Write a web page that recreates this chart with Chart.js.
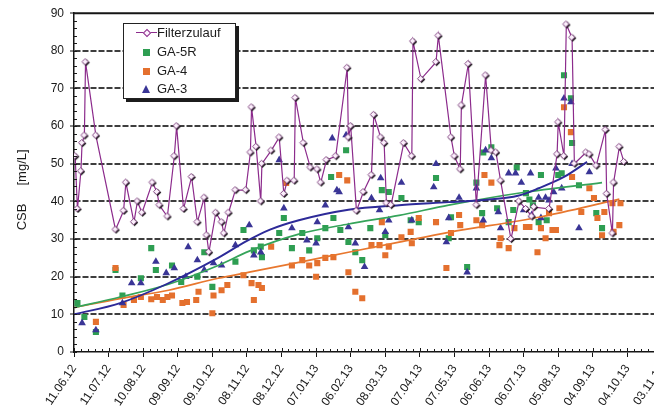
<!DOCTYPE html>
<html>
<head>
<meta charset="utf-8">
<script src="https://cdn.jsdelivr.net/npm/chart.js@4.4.1/dist/chart.umd.min.js"></script>
<style>
  html, body { margin: 0; padding: 0; background: #fff; overflow: hidden; }
  #wrap { position: relative; width: 654px; height: 412px; overflow: hidden; background: #fff; }
  #chart { position: absolute; left: 0; top: 0; }
  #legend {
    position: absolute; left: 123px; top: 23px; width: 111px; height: 74px;
    border: 1px solid #222; background: #fff; box-shadow: 3px 3px 0 #1c1c1c;
    font-family: "Liberation Sans", Arial, sans-serif; font-size: 13px; color: #1c1c1c;
  }
  .row { position: absolute; left: 0; height: 16px; width: 111px; }
  .row span.t { position: absolute; left: 33px; top: 0; line-height: 16px; white-space: nowrap; }
  .mk { position: absolute; }
</style>
</head>
<body>
<div id="wrap">
  <canvas id="chart" width="680" height="412"></canvas>
  <div id="legend"></div>
</div>
<script>
// Date axis: days counted from 11.06.12, one label every 30 days
const xTickLabels = ['11.06.12','11.07.12','10.08.12','09.09.12','09.10.12','08.11.12','08.12.12','07.01.13','06.02.13','08.03.13','07.04.13','07.05.13','06.06.13','06.07.13','05.08.13','04.09.13','04.10.13','03.11.13'];
const yTickValues = [0, 10, 20, 30, 40, 50, 60, 70, 80, 90];

const seriesNames = ['Filterzulauf', 'GA-5R', 'GA-4', 'GA-3'];

// Filterzulauf (CSB in mg/L)
const filterDays = [1,3,6,7,9,10,19,36,43,45,52,55,59,68,72,74,81,87,89,95,102,107,113,115,117,123,128,130,134,140,149,153,154,158,162,163,171,178,182,185,191,192,199,205,211,214,219,227,237,238,240,245,251,258,260,266,269,271,275,286,293,294,301,314,316,327,330,335,336,342,349,357,362,366,370,379,386,392,397,399,412,419,420,425,427,432,434,444,447,453,461,462,467,468,473,477];
const filterVals = [52,38,48,55.5,57.5,77,57.5,32.5,37.5,45,34.5,40,37,45,42.5,39,36,52,60,38,46.5,34.5,41,31,26.5,37,34.5,31.5,37,43,43,53,65,54.5,40,50,53.5,57,42,45.5,45.5,67.5,55.5,49,48.5,45,51,52,75.5,57,60,37.5,42.5,47,63,57,55.5,39.5,39,55.5,52,82.5,72.5,77,84,57,52,48.5,65.5,76.5,39,73.5,53.5,53,45.5,30,40,38,36,38.5,38,52.5,61,52,87,83.5,50,53,52.5,49.5,59,42,31.5,45,54.5,50.5];

// GA-5R
const ga5rDays = [3,9,19,36,42,58,67,71,85,93,107,113,120,140,147,156,162,163,178,182,189,198,204,211,218,223,225,231,236,238,244,250,257,267,270,273,284,292,299,314,325,327,341,349,354,355,362,367,377,381,384,392,395,398,403,405,410,420,423,425,431,432,438,453,458];
const ga5rVals = [13,9.3,5.3,21.8,15,19.6,27.6,21.8,23,18.6,20,26.5,17.3,24,32.4,27,28,25.2,31.6,35.6,27.6,31.6,27,30.2,32.9,46.5,35.6,32.4,53.6,29.2,26.5,24.4,32.9,43,31,42.5,40.9,35,34.5,46.2,30.2,35.8,22.6,45,36.9,53,54.4,38.2,34.5,37.7,49,42.2,40.5,39,34.5,47,35,47,47.5,73.5,67.4,55.5,44.3,36.9,32.9];

// GA-4
const ga4Days = [19,36,43,52,58,67,72,77,81,85,94,98,106,108,120,121,128,133,147,154,156,160,163,171,184,189,198,204,210,211,218,225,230,237,238,244,250,258,265,267,270,273,284,292,293,299,314,323,327,334,335,349,354,356,362,369,370,377,382,392,395,402,405,409,412,415,418,421,425,431,432,440,447,451,454,458,460,467,468,473,474];
const ga4Vals = [8,22.3,12.5,13.8,14.6,14,14.6,13.8,14.6,15,13,13.3,13.8,16,10.3,15,16.4,17.8,20.4,18.3,13.8,17.8,17,28,44.9,23,24.4,23,20,23.6,25,25.2,47,45.6,21.2,16,14.3,28.4,28.4,34.5,25.7,28,30.5,31.9,28.9,35.6,34.5,22.3,31.6,36.4,33.7,35,33.7,47,45,28.4,30.2,27.6,32.9,33.2,33.2,26.5,32.9,30.2,36.9,32.4,32.4,38.2,65,58.4,46.5,37.2,43.5,40.9,35.6,31,37.2,39.5,31.9,33.7,39.5];

// GA-3
const ga3Days = [7,19,42,50,58,71,80,87,97,99,107,113,121,128,140,152,156,162,178,182,189,202,210,211,218,224,228,230,236,238,244,252,258,265,266,270,273,284,293,312,314,323,325,334,341,349,355,357,362,368,370,377,383,388,390,396,397,403,405,409,412,416,418,423,425,431,432,438,447];
const ga3Vals = [7.7,5.8,13,18.3,18.3,24,21,22.3,20,27.9,24.4,21.8,23.6,23,28.4,33.7,25.7,26.5,51,38.2,32.9,29.7,28.9,34.5,39,56.8,43,42.5,57.6,33.2,28.9,22.6,40.9,37.7,46.2,31.9,35,45,35,43.8,50,29.2,35.6,41,21.2,43.5,35,53.6,51.5,37.2,32.9,47.5,47.5,45,37.7,47.5,36.4,41,35.6,41,40.3,42.5,48.8,43.5,67.4,66.4,50,32.9,47.8];

// Trend curves for the three filters
const trend3Days = [0,40,80,125,150,170,195,238,282,325,360,385,403,425,445];
const trend3Vals = [10,13,18,25,29.5,32.5,35,37.8,39,39.8,40.5,41.5,43.5,46.5,50.5];
const trend5rDays = [0,40,82,125,152,195,238,282,325,388,458];
const trend5rVals = [11.8,14.6,18,23,26.8,31.3,34,36.3,39,42.3,45];
const trend4Days = [0,40,82,125,152,195,238,282,325,403,473];
const trend4Vals = [11.8,14.2,16.4,19.6,21.2,23.8,26.5,29.2,31.8,35.8,40.6];

const COLORS = {
  filter: '#8c2b8c',
  ga5r: '#2e9e52',
  ga4: '#e4702e',
  ga3: '#3a3596'
};

const pts = (xs, ys) => xs.map((x, i) => ({ x: x, y: ys[i] }));

// Small white diamond with a dark drop edge, used for the Filterzulauf markers
function diamondMarker() {
  const c = document.createElement('canvas');
  c.width = 10; c.height = 10;
  const g = c.getContext('2d');
  const dia = (cx, cy, r) => {
    g.beginPath();
    g.moveTo(cx, cy - r); g.lineTo(cx + r, cy); g.lineTo(cx, cy + r); g.lineTo(cx - r, cy);
    g.closePath();
  };
  dia(5.6, 5.4, 3.6);
  g.fillStyle = '#111'; g.fill();
  dia(4.6, 4.6, 3.2);
  g.fillStyle = '#fcf0fc'; g.fill();
  g.lineWidth = 0.9; g.strokeStyle = '#7a3a7a'; g.stroke();
  return c;
}
const diamondImg = diamondMarker();

const datasets = [
  {
    label: seriesNames[0], data: pts(filterDays, filterVals), showLine: true,
    borderColor: COLORS.filter, borderWidth: 1.2,
    pointStyle: diamondImg, pointRadius: 4, order: 0
  },
  {
    label: 'trend GA-3', data: pts(trend3Days, trend3Vals), showLine: true,
    borderColor: '#2d2a98', borderWidth: 1.9, pointRadius: 0,
    cubicInterpolationMode: 'monotone', order: 1
  },
  {
    label: 'trend GA-5R', data: pts(trend5rDays, trend5rVals), showLine: true,
    borderColor: '#35a45a', borderWidth: 1.7, pointRadius: 0,
    cubicInterpolationMode: 'monotone', order: 1
  },
  {
    label: 'trend GA-4', data: pts(trend4Days, trend4Vals), showLine: true,
    borderColor: '#e8772e', borderWidth: 1.7, pointRadius: 0,
    cubicInterpolationMode: 'monotone', order: 1
  },
  {
    label: seriesNames[1], data: pts(ga5rDays, ga5rVals), showLine: false,
    pointStyle: 'rect', pointRadius: 4.3, backgroundColor: COLORS.ga5r,
    borderColor: COLORS.ga5r, borderWidth: 0, order: 4
  },
  {
    label: seriesNames[2], data: pts(ga4Days, ga4Vals), showLine: false,
    pointStyle: 'rect', pointRadius: 4.3, backgroundColor: COLORS.ga4,
    borderColor: COLORS.ga4, borderWidth: 0, order: 3
  },
  {
    label: seriesNames[3], data: pts(ga3Days, ga3Vals), showLine: false,
    pointStyle: 'triangle', pointRadius: 4.4, backgroundColor: COLORS.ga3,
    borderColor: COLORS.ga3, borderWidth: 0, order: 2
  }
];

// Top frame line and the small minor tick marks on both axes
const axisDecor = {
  id: 'axisDecor',
  beforeDatasetsDraw(chart) {
    const { ctx, chartArea, scales } = chart;
    const yTop = scales.y.getPixelForValue(90);
    ctx.save();
    ctx.strokeStyle = '#151515';
    ctx.lineWidth = 2;
    ctx.beginPath();
    ctx.moveTo(chartArea.left, yTop);
    ctx.lineTo(chartArea.right + 20, yTop);
    ctx.stroke();
    ctx.restore();
  },
  afterDraw(chart) {
    const { ctx, chartArea, scales } = chart;
    ctx.save();
    ctx.strokeStyle = '#1a1a1a';
    ctx.lineWidth = 1;
    ctx.beginPath();
    for (let v = 0; v <= 90; v += 2) {
      const y = Math.round(scales.y.getPixelForValue(v)) + 0.5;
      ctx.moveTo(chartArea.left, y);
      ctx.lineTo(chartArea.left + 3, y);
    }
    for (let d = 0; d <= 540; d += 6) {
      const x = Math.round(scales.x.getPixelForValue(d)) + 0.5;
      ctx.moveTo(x, chartArea.bottom);
      ctx.lineTo(x, chartArea.bottom - (d % 30 === 0 ? 4 : 3));
    }
    ctx.stroke();
    ctx.restore();
  }
};

const chart = new Chart(document.getElementById('chart'), {
  type: 'scatter',
  data: { datasets },
  options: {
    responsive: false,
    animation: false,
    devicePixelRatio: 1,
    layout: { padding: { top: 13, right: 18, left: 0, bottom: 0 } },
    plugins: { legend: { display: false }, tooltip: { enabled: false } },
    scales: {
      x: {
        type: 'linear', min: 0, max: 510,
        afterBuildTicks: (s) => { s.ticks = xTickLabels.map((_, i) => ({ value: i * 30 })); },
        afterFit: (s) => { s.height = 60; },
        ticks: {
          autoSkip: false, maxRotation: 56, minRotation: 56, padding: 5,
          color: '#1a1a1a',
          font: { family: '"Liberation Sans", Arial, sans-serif', size: 12 },
          callback: (v) => xTickLabels[Math.round(v / 30)] || ''
        },
        grid: { drawOnChartArea: false, tickLength: 5, tickColor: '#151515', tickWidth: 1 },
        border: { color: '#151515', width: 1.5 }
      },
      y: {
        min: 0, max: 90,
        afterBuildTicks: (s) => { s.ticks = yTickValues.map((v) => ({ value: v })); },
        afterFit: (s) => { s.width = 74; },
        ticks: {
          padding: 6, color: '#1a1a1a',
          font: { family: '"Liberation Sans", Arial, sans-serif', size: 12 }
        },
        grid: {
          color: (c) => (c.tick && (c.tick.value === 0 || c.tick.value === 90)) ? 'rgba(0,0,0,0)' : '#3e3e3e',
          lineWidth: 2, tickLength: 4, tickColor: '#151515', tickWidth: 1
        },
        border: { color: '#151515', width: 1.5, dash: [6, 2] },
        title: {
          display: true, text: 'CSB     [mg/L]    ', color: '#1a1a1a',
          font: { family: '"Liberation Sans", Arial, sans-serif', size: 13, lineHeight: 1 },
          padding: { top: 16, bottom: 0 }
        }
      }
    }
  },
  plugins: [axisDecor]
});

// Legend box built from the dataset names and colours
(function buildLegend() {
  const box = document.getElementById('legend');
  const rowTops = [1, 20, 39, 57];
  const rows = [
    { name: seriesNames[0], kind: 'line' },
    { name: seriesNames[1], kind: 'square', color: COLORS.ga5r },
    { name: seriesNames[2], kind: 'square', color: COLORS.ga4 },
    { name: seriesNames[3], kind: 'triangle', color: COLORS.ga3 }
  ];
  rows.forEach((r, i) => {
    const row = document.createElement('div');
    row.className = 'row';
    row.style.top = rowTops[i] + 'px';
    if (r.kind === 'line') {
      const ln = document.createElement('div');
      ln.className = 'mk';
      ln.style.cssText = 'left:12px;top:7px;width:21px;height:0;border-top:1.5px solid ' + COLORS.filter + ';';
      row.appendChild(ln);
      const dm = document.createElement('div');
      dm.className = 'mk';
      dm.style.cssText = 'left:20px;top:5px;width:4px;height:4px;background:#fdf2fd;border:1px solid ' + COLORS.filter + ';transform:rotate(45deg);';
      row.appendChild(dm);
    } else if (r.kind === 'square') {
      const sq = document.createElement('div');
      sq.className = 'mk';
      sq.style.cssText = 'left:19px;top:5px;width:7px;height:7px;background:' + r.color + ';';
      row.appendChild(sq);
    } else {
      const tr = document.createElement('div');
      tr.className = 'mk';
      tr.style.cssText = 'left:18px;top:4px;width:0;height:0;border-left:4.5px solid transparent;border-right:4.5px solid transparent;border-bottom:8px solid ' + r.color + ';';
      row.appendChild(tr);
    }
    const t = document.createElement('span');
    t.className = 't';
    t.textContent = r.name;
    row.appendChild(t);
    box.appendChild(row);
  });
})();
</script>
</body>
</html>
